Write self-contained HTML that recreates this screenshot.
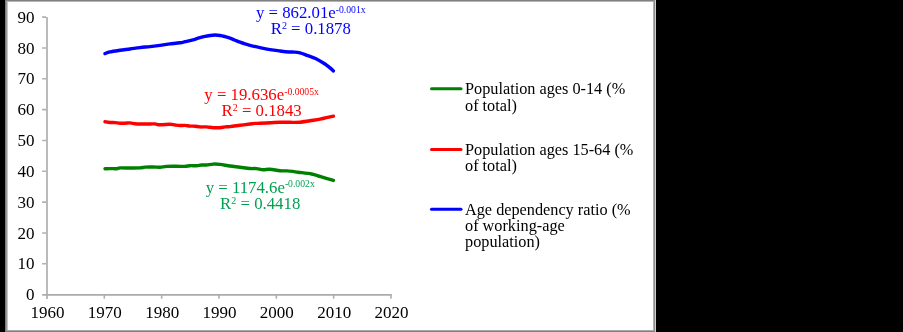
<!DOCTYPE html>
<html><head><meta charset="utf-8"><style>
html,body{margin:0;padding:0;background:#000;}
body{width:903px;height:332px;overflow:hidden;position:relative;}
.t{font-family:"Liberation Serif",serif;font-size:17px;fill:#000;}
svg{position:absolute;left:0;top:0;will-change:transform;}
</style></head><body>
<svg width="903" height="332" viewBox="0 0 903 332">
<rect x="0" y="0" width="903" height="332" fill="#000"/>
<rect x="5" y="0" width="651" height="332" fill="#a0a0a0"/>
<rect x="5" y="0" width="1" height="332" fill="#7c7c7c"/>
<rect x="6" y="0" width="1" height="332" fill="#9c9c9c"/>
<rect x="7" y="0" width="1" height="332" fill="#c4c4c4"/>
<rect x="5" y="0" width="651" height="1" fill="#808080"/>
<rect x="7" y="1" width="647" height="1" fill="#b4b4b4"/>
<rect x="653" y="1" width="1" height="331" fill="#b0b0b0"/>
<rect x="654" y="0" width="1" height="332" fill="#8c8c8c"/>
<rect x="655" y="0" width="1" height="332" fill="#d0d0d0"/>
<rect x="7" y="330" width="647" height="1" fill="#a8a8a8"/>
<rect x="6" y="331" width="649" height="1" fill="#808080"/>
<rect x="8" y="2" width="645" height="328" fill="#fff"/>
<path d="M47,17.10 V299" fill="none" stroke="#bababa" stroke-width="2"/>
<path d="M42.2,263.77 H46 M42.2,232.93 H46 M42.2,202.10 H46 M42.2,171.27 H46 M42.2,140.44 H46 M42.2,109.60 H46 M42.2,78.77 H46 M42.2,47.94 H46 M42.2,17.10 H46 M104.33,294.6 V298.8 M161.67,294.6 V298.8 M219.00,294.6 V298.8 M276.33,294.6 V298.8 M333.66,294.6 V298.8 M391.00,294.6 V298.8" fill="none" stroke="#b0b0b0" stroke-width="1.6"/>
<path d="M42.2,294.9 H391.70" fill="none" stroke="#ababab" stroke-width="1.8"/>
<text x="34.6" y="300.20" text-anchor="end" class="t">0</text>
<text x="34.6" y="269.37" text-anchor="end" class="t">10</text>
<text x="34.6" y="238.53" text-anchor="end" class="t">20</text>
<text x="34.6" y="207.70" text-anchor="end" class="t">30</text>
<text x="34.6" y="176.87" text-anchor="end" class="t">40</text>
<text x="34.6" y="146.04" text-anchor="end" class="t">50</text>
<text x="34.6" y="115.20" text-anchor="end" class="t">60</text>
<text x="34.6" y="84.37" text-anchor="end" class="t">70</text>
<text x="34.6" y="53.54" text-anchor="end" class="t">80</text>
<text x="34.6" y="22.70" text-anchor="end" class="t">90</text>
<text x="47.50" y="318" text-anchor="middle" class="t">1960</text>
<text x="104.83" y="318" text-anchor="middle" class="t">1970</text>
<text x="162.17" y="318" text-anchor="middle" class="t">1980</text>
<text x="219.50" y="318" text-anchor="middle" class="t">1990</text>
<text x="276.83" y="318" text-anchor="middle" class="t">2000</text>
<text x="334.16" y="318" text-anchor="middle" class="t">2010</text>
<text x="391.50" y="318" text-anchor="middle" class="t">2020</text>
<path d="M105.00,53.60 C105.83,53.32 107.50,52.45 110.00,51.90 C112.50,51.35 116.67,50.78 120.00,50.30 C123.33,49.82 126.67,49.45 130.00,49.00 C133.33,48.55 136.67,48.00 140.00,47.60 C143.33,47.20 146.67,46.98 150.00,46.60 C153.33,46.23 157.50,45.68 160.00,45.35 C162.50,45.02 163.33,44.84 165.00,44.60 C166.67,44.36 167.50,44.20 170.00,43.90 C172.50,43.60 177.50,43.17 180.00,42.80 C182.50,42.43 183.33,42.07 185.00,41.70 C186.67,41.33 188.33,41.00 190.00,40.60 C191.67,40.20 193.33,39.80 195.00,39.30 C196.67,38.80 198.33,38.10 200.00,37.60 C201.67,37.10 203.33,36.65 205.00,36.30 C206.67,35.95 208.33,35.71 210.00,35.50 C211.67,35.29 213.33,35.06 215.00,35.05 C216.67,35.04 218.33,35.19 220.00,35.45 C221.67,35.71 223.33,36.16 225.00,36.60 C226.67,37.04 228.33,37.50 230.00,38.10 C231.67,38.70 233.33,39.52 235.00,40.20 C236.67,40.88 238.33,41.58 240.00,42.20 C241.67,42.82 243.33,43.38 245.00,43.90 C246.67,44.42 247.50,44.68 250.00,45.30 C252.50,45.92 256.67,46.88 260.00,47.60 C263.33,48.32 266.67,49.03 270.00,49.60 C273.33,50.17 276.83,50.60 280.00,51.00 C283.17,51.40 286.67,51.82 289.00,52.00 C291.33,52.18 292.17,51.95 294.00,52.10 C295.83,52.25 297.83,52.37 300.00,52.90 C302.17,53.43 304.33,54.33 307.00,55.30 C309.67,56.27 313.00,57.25 316.00,58.70 C319.00,60.15 322.72,62.52 325.00,64.00 C327.28,65.48 328.30,66.45 329.70,67.60 C331.10,68.75 332.78,70.35 333.40,70.90" fill="none" stroke="#0000ff" stroke-width="3.4" stroke-linecap="round" stroke-linejoin="round"/>
<path d="M105.00,121.80 C105.83,121.92 108.33,122.37 110.00,122.50 C111.67,122.63 113.33,122.48 115.00,122.60 C116.67,122.72 118.33,123.10 120.00,123.20 C121.67,123.30 123.33,123.25 125.00,123.20 C126.67,123.15 128.33,122.82 130.00,122.90 C131.67,122.98 133.33,123.52 135.00,123.70 C136.67,123.88 137.50,123.95 140.00,124.00 C142.50,124.05 147.50,124.02 150.00,124.00 C152.50,123.98 153.33,123.77 155.00,123.90 C156.67,124.03 157.50,124.73 160.00,124.80 C162.50,124.87 167.50,124.27 170.00,124.30 C172.50,124.33 173.33,124.80 175.00,125.00 C176.67,125.20 178.33,125.43 180.00,125.50 C181.67,125.57 183.33,125.30 185.00,125.40 C186.67,125.50 188.33,125.97 190.00,126.10 C191.67,126.23 193.33,126.07 195.00,126.20 C196.67,126.33 198.08,126.78 200.00,126.90 C201.92,127.02 204.30,126.77 206.50,126.90 C208.70,127.03 210.95,127.57 213.20,127.70 C215.45,127.83 218.03,127.83 220.00,127.70 C221.97,127.57 223.33,127.08 225.00,126.90 C226.67,126.72 227.50,126.87 230.00,126.60 C232.50,126.33 236.67,125.73 240.00,125.30 C243.33,124.87 247.50,124.32 250.00,124.00 C252.50,123.68 253.33,123.52 255.00,123.40 C256.67,123.28 257.50,123.40 260.00,123.30 C262.50,123.20 266.67,122.98 270.00,122.80 C273.33,122.62 276.67,122.28 280.00,122.20 C283.33,122.12 286.67,122.30 290.00,122.30 C293.33,122.30 296.67,122.47 300.00,122.20 C303.33,121.93 306.67,121.20 310.00,120.70 C313.33,120.20 317.25,119.72 320.00,119.20 C322.75,118.68 324.27,118.10 326.50,117.60 C328.73,117.10 332.25,116.43 333.40,116.20" fill="none" stroke="#ff0000" stroke-width="3.4" stroke-linecap="round" stroke-linejoin="round"/>
<path d="M105.00,168.80 C105.83,168.77 108.07,168.62 110.00,168.60 C111.93,168.58 114.93,168.82 116.60,168.70 C118.27,168.58 117.77,168.02 120.00,167.90 C122.23,167.78 126.67,168.00 130.00,168.00 C133.33,168.00 137.50,168.05 140.00,167.90 C142.50,167.75 142.80,167.25 145.00,167.10 C147.20,166.95 150.70,166.97 153.20,167.00 C155.70,167.03 157.77,167.40 160.00,167.30 C162.23,167.20 163.83,166.57 166.60,166.40 C169.37,166.23 173.55,166.30 176.60,166.30 C179.65,166.30 182.68,166.50 184.90,166.40 C187.12,166.30 187.97,165.82 189.90,165.70 C191.83,165.58 194.57,165.82 196.50,165.70 C198.43,165.58 199.83,165.12 201.50,165.00 C203.17,164.88 204.55,165.15 206.50,165.00 C208.45,164.85 210.95,164.20 213.20,164.10 C215.45,164.00 217.20,164.08 220.00,164.40 C222.80,164.72 226.67,165.53 230.00,166.00 C233.33,166.47 236.67,166.78 240.00,167.20 C243.33,167.62 247.25,168.27 250.00,168.50 C252.75,168.73 254.30,168.38 256.50,168.60 C258.70,168.82 260.98,169.70 263.20,169.80 C265.42,169.90 267.00,169.03 269.80,169.20 C272.60,169.37 277.10,170.52 280.00,170.80 C282.90,171.08 284.18,170.67 287.20,170.90 C290.22,171.13 294.03,171.68 298.10,172.20 C302.17,172.72 307.83,173.25 311.60,174.00 C315.37,174.75 317.07,175.63 320.70,176.70 C324.33,177.77 331.28,179.78 333.40,180.40" fill="none" stroke="#008000" stroke-width="3.4" stroke-linecap="round" stroke-linejoin="round"/>
<text x="310.8" y="18" text-anchor="middle" class="t" style="fill:#0000ff;font-size:16.8px">y = 862.01e<tspan font-size="9.7" dy="-5.3">-0.001x</tspan></text><text x="310.8" y="34.3" text-anchor="middle" class="t" style="fill:#0000ff;font-size:16.8px">R<tspan font-size="10" dy="-5.1">2</tspan><tspan dy="5.1"> = </tspan>0.1878</text>
<text x="261.6" y="100.2" text-anchor="middle" class="t" style="fill:#ff0000;font-size:16.8px">y = 19.636e<tspan font-size="9.7" dy="-5.3">-0.0005x</tspan></text><text x="261.6" y="116.1" text-anchor="middle" class="t" style="fill:#ff0000;font-size:16.8px">R<tspan font-size="10" dy="-5.1">2</tspan><tspan dy="5.1"> = </tspan>0.1843</text>
<text x="260.2" y="192.6" text-anchor="middle" class="t" style="fill:#00a050;font-size:16.8px">y = 1174.6e<tspan font-size="9.7" dy="-5.3">-0.002x</tspan></text><text x="260.2" y="209.2" text-anchor="middle" class="t" style="fill:#00a050;font-size:16.8px">R<tspan font-size="10" dy="-5.1">2</tspan><tspan dy="5.1"> = </tspan>0.4418</text>
<path d="M431.5,88.8 H461" stroke="#008000" stroke-width="3" stroke-linecap="round"/>
<text x="465" y="94.30" class="t" style="font-size:16.25px">Population ages 0-14 (%</text>
<text x="465" y="110.50" class="t" style="font-size:16.25px">of total)</text>
<path d="M431.5,149.4 H461" stroke="#ff0000" stroke-width="3" stroke-linecap="round"/>
<text x="465" y="154.90" class="t" style="font-size:16.25px">Population ages 15-64 (%</text>
<text x="465" y="171.10" class="t" style="font-size:16.25px">of total)</text>
<path d="M431.5,209.2 H461" stroke="#0000ff" stroke-width="3" stroke-linecap="round"/>
<text x="465" y="214.70" class="t" style="font-size:16.25px">Age dependency ratio (%</text>
<text x="465" y="230.90" class="t" style="font-size:16.25px">of working-age</text>
<text x="465" y="247.10" class="t" style="font-size:16.25px">population)</text>
</svg>
</body></html>
